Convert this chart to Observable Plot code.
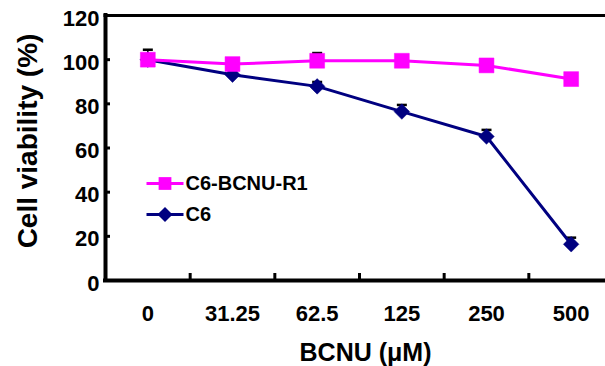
<!DOCTYPE html>
<html>
<head>
<meta charset="utf-8">
<script src="https://cdn.jsdelivr.net/npm/d3@7"></script>
<script src="https://cdn.jsdelivr.net/npm/@observablehq/plot@0.6"></script>
<style>
  html, body { margin: 0; padding: 0; background: #fff; }
</style>
</head>
<body>
<div id="chart"></div>
<script>
// ---- data ----
const doses = ["0", "31.25", "62.5", "125", "250", "500"];
const r1Values = [100, 98.0, 99.5, 99.5, 97.4, 91.2];
const r1Errors = [2, 1.5, 3.5, 2, 2, 1.5];
const c6Values = [100, 93.2, 87.9, 76.5, 65.2, 16.4];
const c6Errors = [4.5, 2, 2, 3, 3, 3];
const yTicks = [0, 20, 40, 60, 80, 100, 120];
const seriesNames = ["C6-BCNU-R1", "C6"];
const seriesColors = ["#FF00FF", "#000080"];
const xTitle = "BCNU (\u03BCM)";
const yTitle = "Cell viability (%)";

const idx = doses.map((d, i) => i);
const rows = (vals, errs) => idx.map(i => ({i, v: vals[i], hi: vals[i] + errs[i]}));
const r1 = rows(r1Values, r1Errors);
const c6 = rows(c6Values, c6Errors);
const boundaries = idx.slice(1).map(i => i - 0.5);

const capSymbol = {draw(ctx) { ctx.moveTo(-5, 0); ctx.lineTo(5, 0); }};
const legendLine = {draw(ctx) { ctx.moveTo(-18.5, 0); ctx.lineTo(18.5, 0); }};

const font = "Arial, 'Liberation Sans', sans-serif";

function seriesMarks(data, color, symbol, r) {
  return [
    Plot.ruleX(data, {x: "i", y1: "v", y2: "hi", stroke: "black", strokeWidth: 1.5}),
    Plot.dot(data, {x: "i", y: "hi", symbol: capSymbol, stroke: "black", strokeWidth: 2.5}),
    Plot.line(data, {x: "i", y: "v", stroke: color, strokeWidth: 3}),
    Plot.dot(data, {x: "i", y: "v", symbol, r, fill: color, stroke: color, strokeWidth: 0.5})
  ];
}

const legendMarks = seriesNames.flatMap((name, k) => {
  const dy = 168 + k * 31;
  const sym = k === 0 ? "square" : "diamond2";
  const r = k === 0 ? 7.2 : 6.8;
  return [
    Plot.dot([name], {frameAnchor: "top-left", dx: 59.5, dy, symbol: legendLine, stroke: seriesColors[k], strokeWidth: 3}),
    Plot.dot([name], {frameAnchor: "top-left", dx: 59.5, dy, symbol: sym, r, fill: seriesColors[k]}),
    Plot.text([name], {frameAnchor: "top-left", dx: 80, dy, text: d => d, textAnchor: "start", lineAnchor: "middle", fontSize: 20, fontWeight: "bold", fill: "black"})
  ];
});

const chart = Plot.plot({
  width: 605,
  height: 366,
  marginLeft: 105,
  marginRight: 0,
  marginTop: 15,
  marginBottom: 86,
  style: {fontFamily: font, fontWeight: "bold", fontSize: "22px", color: "black", background: "white", overflow: "visible"},
  x: {type: "linear", domain: [-0.5, 5.5], range: [105, 613]},
  y: {domain: [0, 120]},
  marks: [
    // frame (top, left, bottom)
    Plot.ruleY([120], {stroke: "black", strokeWidth: 3, strokeLinecap: "square"}),
    Plot.ruleX([-0.5], {stroke: "black", strokeWidth: 4, strokeLinecap: "square"}),
    Plot.ruleY([0], {stroke: "black", strokeWidth: 4, strokeLinecap: "square"}),
    // y axis: inward ticks + labels
    Plot.axisY({ticks: yTicks, tickSize: 5, dx: 5, strokeWidth: 3, tickFormat: () => "", label: null}),
    Plot.axisY({ticks: yTicks, tickSize: 0, tickPadding: 6, dy: 3, fontSize: 22, fontWeight: "bold", label: null}),
    // x axis: inward ticks at category boundaries + category labels
    Plot.axisX({ticks: boundaries, tickSize: 7, dy: -7, strokeWidth: 3, tickFormat: () => "", label: null}),
    Plot.axisX({ticks: idx, tickSize: 0, tickPadding: 25, fontSize: 22, fontWeight: "bold", tickFormat: i => doses[i], label: null}),
    // axis titles
    Plot.text([yTitle], {frameAnchor: "left", dx: -77, dy: -7, rotate: -90, text: d => d, textAnchor: "middle", lineAnchor: "middle", fontSize: 28, fontWeight: "bold", fill: "black"}),
    Plot.text([xTitle], {frameAnchor: "bottom", dx: 10, dy: 72, text: d => d, textAnchor: "middle", lineAnchor: "middle", fontSize: 25, fontWeight: "bold", fill: "black"}),
    // series
    ...seriesMarks(c6, seriesColors[1], "diamond2", 7),
    ...seriesMarks(r1, seriesColors[0], "square", 8.4),
    ...legendMarks
  ]
});
document.getElementById("chart").appendChild(chart);
</script>
</body>
</html>
